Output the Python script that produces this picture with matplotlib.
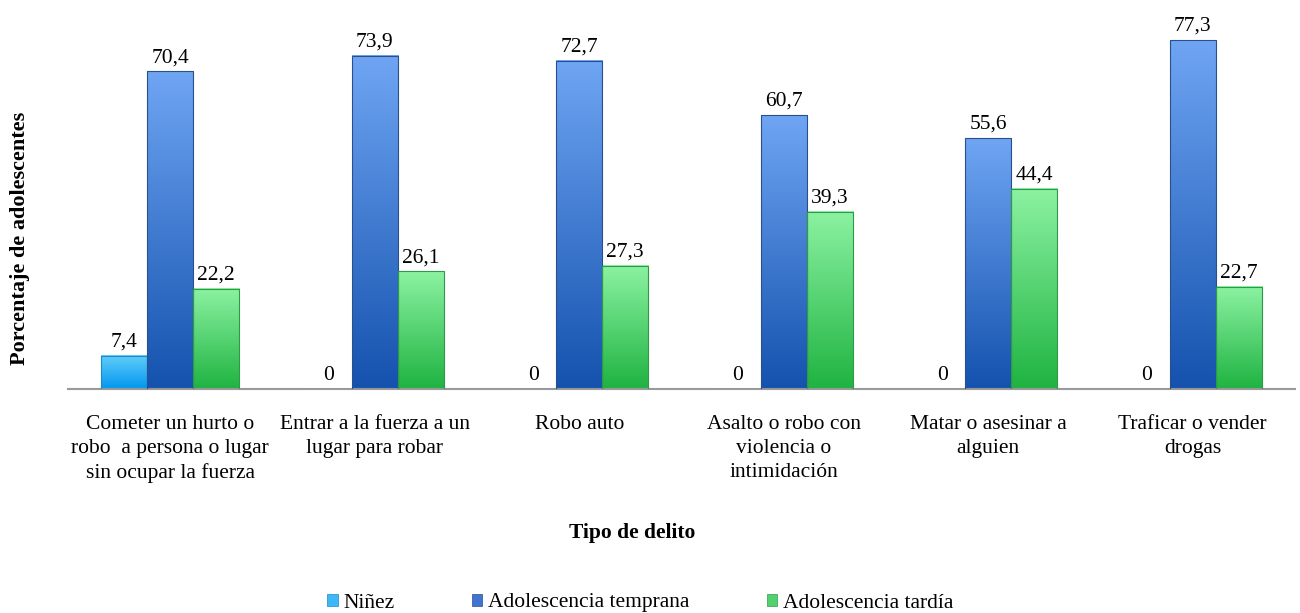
import matplotlib
matplotlib.use("Agg")
import matplotlib.pyplot as plt
from matplotlib.colors import LinearSegmentedColormap
from matplotlib.patches import Rectangle
import numpy as np

plt.rcParams['font.family'] = ['Liberation Serif', 'DejaVu Serif']

categorias = [
    "Cometer un hurto o\nrobo  a persona o lugar\nsin ocupar la fuerza",
    "Entrar a la fuerza a un\nlugar para robar",
    "Robo auto",
    "Asalto o robo con\nviolencia o\nintimidación",
    "Matar o asesinar a\nalguien",
    "Traficar o vender\ndrogas",
]
series = ["Niñez", "Adolescencia temprana", "Adolescencia tardía"]
ninez = [7.4, 0, 0, 0, 0, 0]
temprana = [70.4, 73.9, 72.7, 60.7, 55.6, 77.3]
tardia = [22.2, 26.1, 27.3, 39.3, 44.4, 22.7]

# (top colour, bottom colour, edge, legend colour)
estilos = [
    ("#62CEFB", "#0096EE", "#1E88C8", "#3CB8F6"),
    ("#6FA5F3", "#1452AE", "#2A4F8E", "#3F75D0"),
    ("#8CF2A2", "#1FB341", "#2E9A48", "#52D170"),
]

fs = 15.5
fig = plt.figure(figsize=(13, 6.13), dpi=100)
ax = fig.add_axes([68 / 1300, 1 - 389 / 613, (1295 - 68) / 1300, (389 - 28) / 613])

x = np.arange(len(categorias))
w = 0.225
datos = [ninez, temprana, tardia]

for i, (vals, (top, bot, edge, _)) in enumerate(zip(datos, estilos)):
    cmap = LinearSegmentedColormap.from_list("g%d" % i, [bot, top])
    pos = x + (i - 1) * w
    bars = ax.bar(pos, vals, w, facecolor="none", edgecolor=edge, linewidth=0.8, zorder=3)
    for b, v in zip(bars, vals):
        if v > 0:
            grad = np.linspace(0, 1, 256).reshape(-1, 1)
            ax.imshow(grad, extent=[b.get_x(), b.get_x() + w, 0, v], origin="lower",
                      aspect="auto", cmap=cmap, zorder=2)
        lab = ("%.1f" % v).replace(".", ",") if v > 0 else "0"
        ax.annotate(lab, (b.get_x() + w / 2, v), xytext=(0, 3), textcoords="offset points",
                    ha="center", va="bottom", fontsize=fs)

ax.set_xlim(-0.5, len(categorias) - 0.5)
ax.set_ylim(0, 80)
ax.set_yticks([])
ax.set_xticks(x)
ax.set_xticklabels(categorias, fontsize=fs, linespacing=1.35)
ax.tick_params(axis="x", length=0, pad=19)
for s in ["top", "right", "left"]:
    ax.spines[s].set_visible(False)
ax.spines["bottom"].set_color("#9A9A9A")
ax.spines["bottom"].set_linewidth(1.5)

fig.text(20 / 1300, 1 - 238 / 613, "Porcentaje de adolescentes", rotation=90,
         ha="center", va="center", fontsize=16, fontweight="bold")
fig.text(632 / 1300, 1 - 533 / 613, "Tipo de delito", ha="center", va="center",
         fontsize=fs, fontweight="bold")

handles = [Rectangle((0, 0), 1, 1, facecolor=c[3], edgecolor=c[2], linewidth=0.5) for c in estilos]
fig.legend(handles, series, loc="center", bbox_to_anchor=(640 / 1300, 1 - 603 / 613),
           ncol=3, frameon=False, fontsize=fs, handlelength=0.5, handleheight=0.5,
           handletextpad=0.25, columnspacing=3.6)

fig.savefig("out.png", dpi=100)
